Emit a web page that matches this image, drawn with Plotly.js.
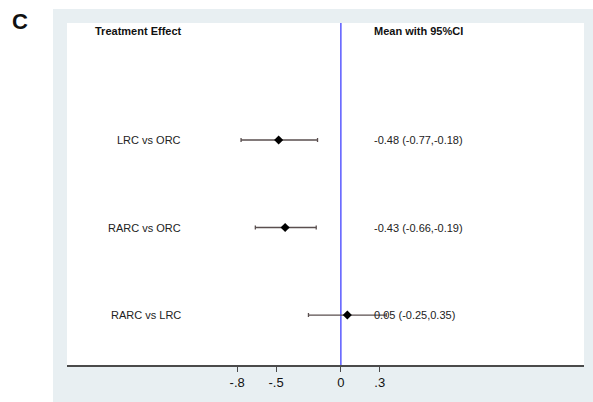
<!DOCTYPE html>
<html>
<head>
<meta charset="utf-8">
<script src="https://cdn.plot.ly/plotly-3.0.1.min.js"></script>
<style>html,body{margin:0;padding:0;background:#fff;}#chart{width:593px;height:402px;}</style>
</head>
<body>
<div id="chart"></div>
<script>
// Data
var comparisons = ["LRC vs ORC", "RARC vs ORC", "RARC vs LRC"];
var rowPos = [3, 2, 1];
var means = [-0.48, -0.43, 0.05];
var lowerCI = [-0.77, -0.66, -0.25];
var upperCI = [-0.18, -0.19, 0.35];
var ciLabels = ["-0.48 (-0.77,-0.18)", "-0.43 (-0.66,-0.19)", "0.05 (-0.25,0.35)"];
var tickVals = [-0.8, -0.5, 0, 0.3];
var tickText = ["-.8", "-.5", "0", ".3"];
var headerLeft = "Treatment Effect";
var headerRight = "Mean with 95%CI";

var errPlus = means.map(function (m, i) { return +(upperCI[i] - m).toFixed(4); });
var errMinus = means.map(function (m, i) { return +(m - lowerCI[i]).toFixed(4); });

var font = "Liberation Sans, Arial, sans-serif";

var trace = {
  type: "scatter",
  mode: "markers",
  x: means,
  y: rowPos,
  marker: { symbol: "diamond", size: 7, color: "#000" },
  error_x: {
    type: "data", symmetric: false,
    array: errPlus, arrayminus: errMinus,
    color: "#5a4f4f", thickness: 1.3, width: 2
  },
  hoverinfo: "skip",
  showlegend: false
};

var W = 593, H = 402, L = 67, R = 9, T = 23, B = 37;
var pw = W - L - R, ph = H - T - B;
function px(x) { return (x - L) / pw; }
function py(y) { return 1 - (y - T) / ph; }

var annotations = [];
annotations.push({ x: -1.91, y: 4.246, xref: "x", yref: "y", text: "<b>" + headerLeft + "</b>",
  showarrow: false, xanchor: "left", yanchor: "middle", font: { family: font, size: 11, color: "#111" } });
annotations.push({ x: 0.241, y: 4.246, xref: "x", yref: "y", text: "<b>" + headerRight + "</b>",
  showarrow: false, xanchor: "left", yanchor: "middle", font: { family: font, size: 11, color: "#111" } });
comparisons.forEach(function (c, i) {
  annotations.push({ x: -1.22, y: rowPos[i], xref: "x", yref: "y", text: c, showarrow: false,
    xanchor: "right", yanchor: "middle", font: { family: font, size: 11, color: "#222" } });
  annotations.push({ x: 0.241, y: rowPos[i], xref: "x", yref: "y", text: ciLabels[i], showarrow: false,
    xanchor: "left", yanchor: "middle", font: { family: font, size: 11, color: "#222" } });
});
annotations.push({ x: px(10), y: py(21), xref: "paper", yref: "paper", text: "<b>C</b>",
  showarrow: false, xanchor: "left", yanchor: "middle", font: { family: font, size: 22, color: "#111" } });

var shapes = [
  // white strip left of the grey panel
  { type: "rect", xref: "paper", yref: "paper", x0: px(0), x1: px(53), y0: py(H), y1: py(0),
    fillcolor: "#fff", line: { width: 0 }, layer: "below" },
  // white strip above the grey panel
  { type: "rect", xref: "paper", yref: "paper", x0: px(0), x1: px(W), y0: py(9), y1: py(0),
    fillcolor: "#fff", line: { width: 0 }, layer: "below" },
  // vertical reference line at 0
  { type: "line", xref: "x", yref: "paper", x0: 0, x1: 0, y0: 0, y1: 1,
    line: { color: "#5a5aff", width: 1.5 }, layer: "below" }
];

var layout = {
  width: W, height: H,
  margin: { l: L, r: R, t: T, b: B, pad: 0 },
  paper_bgcolor: "#e8eff2",
  plot_bgcolor: "#ffffff",
  showlegend: false,
  xaxis: {
    range: [-2.113, 1.876],
    tickvals: tickVals, ticktext: tickText,
    showgrid: false, zeroline: false,
    showline: true, linecolor: "#4a4a4a", linewidth: 1.5,
    ticks: "outside", ticklen: 5, tickcolor: "#4a4a4a", tickwidth: 1,
    tickfont: { family: font, size: 13, color: "#111" },
    fixedrange: true
  },
  yaxis: {
    range: [0.429, 4.337],
    showgrid: false, zeroline: false, showline: false,
    showticklabels: false, ticks: "",
    fixedrange: true
  },
  annotations: annotations,
  shapes: shapes
};

Plotly.newPlot("chart", [trace], layout, { displayModeBar: false, staticPlot: true });
</script>
</body>
</html>
